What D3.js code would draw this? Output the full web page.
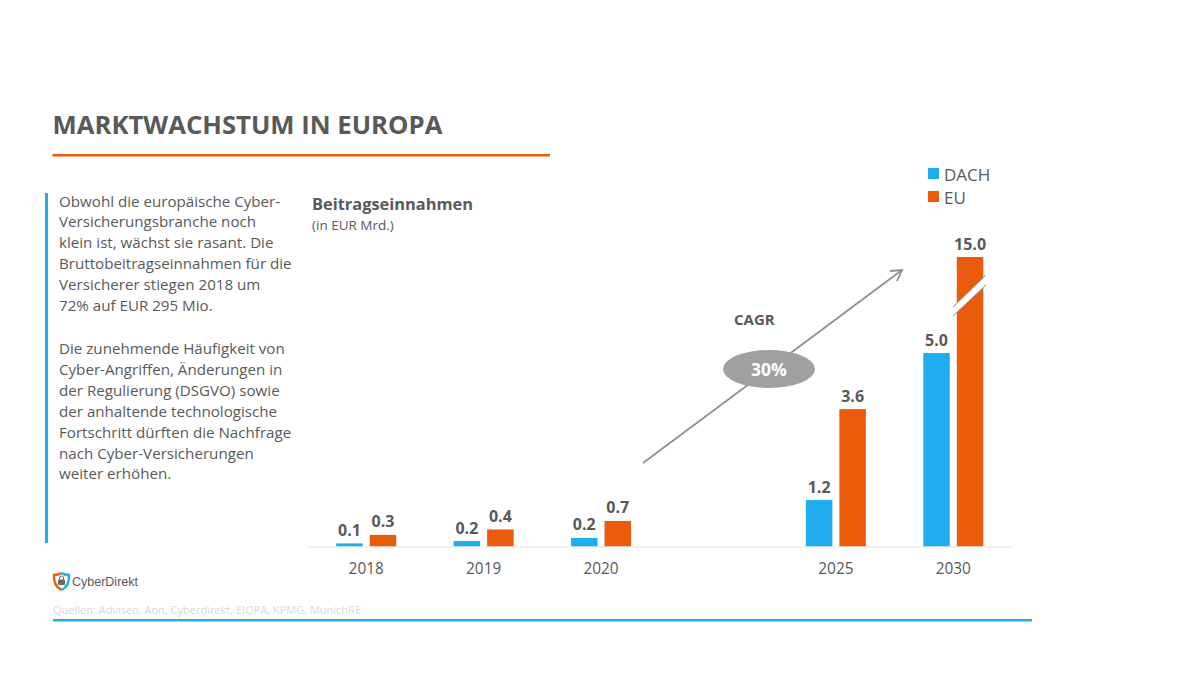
<!DOCTYPE html>
<html>
<head>
<meta charset="utf-8">
<script src="https://cdn.jsdelivr.net/npm/d3@7"></script>
<style>
  html, body { margin: 0; background: #fff; }
  svg { display: block; }
  text { font-family: "Open Sans", sans-serif; fill: #595959; }
</style>
</head>
<body>
<svg id="canvas" width="1200" height="675"></svg>
<script>
const years = ["2018", "2019", "2020", "", "2025", "2030"];
const series = ["DACH", "EU"];
// bar heights as drawn, the small ones don't follow their labels exactly
const dachValues = [0.08, 0.14, 0.22, null, 1.2, 5.0];
const euValues = [0.3, 0.44, 0.66, null, 3.55, 15.0];
const dachLabels = ["0.1", "0.2", "0.2", "", "1.2", "5.0"];
const euLabels = ["0.3", "0.4", "0.7", "", "3.6", "15.0"];
const introLines = [
  "Obwohl die europäische Cyber-",
  "Versicherungsbranche noch",
  "klein ist, wächst sie rasant. Die",
  "Bruttobeitragseinnahmen für die",
  "Versicherer stiegen 2018 um",
  "72% auf EUR 295 Mio."
];
const outroLines = [
  "Die zunehmende Häufigkeit von",
  "Cyber-Angriffen, Änderungen in",
  "der Regulierung (DSGVO) sowie",
  "der anhaltende technologische",
  "Fortschritt dürften die Nachfrage",
  "nach Cyber-Versicherungen",
  "weiter erhöhen."
];

const BLUE = "#1fadf0";
const ORANGE = "#ea5b0c";
const svg = d3.select("#canvas");

// Header
svg.append("text").attr("x", 52.5).attr("y", 134)
  .attr("font-size", 25.7).attr("font-weight", 700).text("MARKTWACHSTUM IN EUROPA");
svg.append("rect").attr("x", 52.5).attr("y", 154).attr("width", 497.5).attr("height", 2.5).attr("fill", ORANGE);

// Left text block
svg.append("rect").attr("x", 45).attr("y", 193).attr("width", 3).attr("height", 350).attr("fill", BLUE);
const para = svg.append("g").attr("font-size", 15.15);
para.selectAll(".intro").data(introLines).join("text").attr("class", "intro")
  .attr("x", 59).attr("y", (d, i) => 206.5 + i * 20.9).text(d => d);
para.selectAll(".outro").data(outroLines).join("text").attr("class", "outro")
  .attr("x", 59).attr("y", (d, i) => 354 + i * 20.9).text(d => d);

// Chart heading
svg.append("text").attr("x", 312).attr("y", 210).attr("font-size", 16.4).attr("font-weight", 700).text("Beitragseinnahmen");
svg.append("text").attr("x", 312).attr("y", 230).attr("font-size", 13.5).text("(in EUR Mrd.)");

// Scales, y has a broken stretch above 6.5 for the 2030 EU bar
const x0 = d3.scaleBand().domain(d3.range(years.length)).range([307.5, 1012]);
const x1 = d3.scaleBand().domain(series).range([0, 60]).paddingInner(0.209);
const y = d3.scaleLinear().domain([0, 6.5, 15]).range([546.5, 295, 257]);
const pad = (x0.bandwidth() - x1.range()[1]) / 2;

const rows = years.map((year, i) => ({ i, year,
  bars: [
    { key: "DACH", value: dachValues[i], label: dachLabels[i], color: BLUE },
    { key: "EU", value: euValues[i], label: euLabels[i], color: ORANGE }
  ]
}));

const groups = svg.selectAll(".year").data(rows.filter(d => d.year)).join("g")
  .attr("class", "year")
  .attr("transform", d => `translate(${x0(d.i) + pad},0)`);

groups.selectAll("rect").data(d => d.bars).join("rect")
  .attr("x", d => x1(d.key))
  .attr("y", d => y(d.value))
  .attr("width", x1.bandwidth())
  .attr("height", d => y(0) - y(d.value))
  .attr("fill", d => d.color);

groups.selectAll(".val").data(d => d.bars).join("text")
  .attr("class", "val")
  .attr("x", d => x1(d.key) + x1.bandwidth() / 2)
  .attr("y", d => y(d.value) - 7.5)
  .attr("text-anchor", "middle")
  .attr("font-size", 16).attr("font-weight", 700)
  .text(d => d.label);

// Axis
const axis = svg.append("g").attr("transform", `translate(0,${y(0)})`)
  .call(d3.axisBottom(x0).tickSize(0).tickPadding(16.5).tickFormat(i => years[i]));
axis.select(".domain").attr("stroke", "#e4e4e4").attr("stroke-width", 1.2);
axis.selectAll("text").attr("font-size", 15.4).style("fill", "#595959");
axis.attr("font-family", null);

// Break mark on the 2030 EU bar
const brk = svg.append("g");
brk.append("path").attr("d", "M953,307 L986,275 L986,285 L953,316 Z").attr("fill", "#fff");
brk.append("path").attr("d", "M953,307 L986,275 M953,316 L986,285").attr("stroke", "#8c8c8c").attr("stroke-width", 1);

// CAGR arrow and badge
svg.append("line").attr("x1", 643).attr("y1", 463).attr("x2", 902).attr("y2", 270)
  .attr("stroke", "#8f8f8f").attr("stroke-width", 1.8);
svg.append("path").attr("d", "M890,271 L902,270 L897,281").attr("fill", "none")
  .attr("stroke", "#8f8f8f").attr("stroke-width", 1.8);
svg.append("ellipse").attr("cx", 769).attr("cy", 369).attr("rx", 46).attr("ry", 19).attr("fill", "#a0a0a0");
svg.append("text").attr("x", 769).attr("y", 375.5).attr("text-anchor", "middle")
  .attr("font-size", 17.5).attr("font-weight", 700).style("fill", "#fff").text("30%");
svg.append("text").attr("x", 734).attr("y", 325).attr("font-size", 15).attr("font-weight", 700).text("CAGR");

// Legend
const legend = svg.selectAll(".legend").data(rows[0].bars).join("g").attr("class", "legend")
  .attr("transform", (d, i) => `translate(928,${168 + i * 23})`);
legend.append("rect").attr("width", 11).attr("height", 11).attr("fill", d => d.color);
legend.append("text").attr("x", 16).attr("y", 12.5).attr("font-size", 17).text(d => d.key);

// Logo
const logo = svg.append("g").attr("transform", "translate(53.5,572)");
logo.append("path").attr("d", "M8,1 C5,3 2,3 0.5,3 C0,10 2,15 8,18").attr("fill", "none").attr("stroke", ORANGE).attr("stroke-width", 2.4);
logo.append("path").attr("d", "M8,1 C11,3 14,3 15.5,3 C16,10 14,15 8,18").attr("fill", "none").attr("stroke", BLUE).attr("stroke-width", 2.4);
logo.append("rect").attr("x", 4.5).attr("y", 7.5).attr("width", 7).attr("height", 5.5).attr("rx", 1).attr("fill", "#666");
logo.append("path").attr("d", "M6,7.5 V6 A2,2 0 0 1 10,6 V7.5").attr("fill", "none").attr("stroke", "#666").attr("stroke-width", 1);
svg.append("text").attr("x", 72).attr("y", 585.5).attr("font-size", 12.5)
  .style("font-family", "Liberation Sans").text("CyberDirekt");

// Footer
svg.append("text").attr("x", 53).attr("y", 614).attr("font-size", 11).style("fill", "#d8d8d8")
  .text("Quellen: Advisen, Aon, Cyberdirekt, EIOPA, KPMG, MunichRE");
svg.append("rect").attr("x", 53).attr("y", 619).attr("width", 979).attr("height", 2.5).attr("fill", BLUE);
</script>
</body>
</html>
